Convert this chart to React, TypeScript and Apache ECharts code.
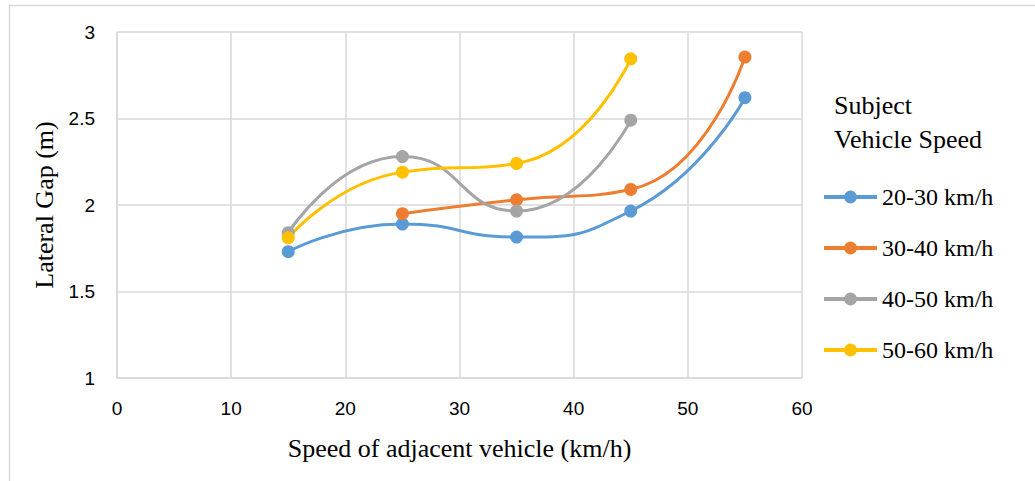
import React, { useEffect, useRef } from "react";
import * as echarts from "echarts";

// Speed of the adjacent vehicle (km/h)
const adjacentSpeeds = [15, 25, 35, 45, 55];

// Lateral gap (m) for each subject vehicle speed band; null = no observation
const gap2030 = [1.73, 1.89, 1.815, 1.965, 2.62];
const gap3040 = [null, 1.95, 2.03, 2.09, 2.855];
const gap4050 = [1.84, 2.28, 1.965, 2.49, null];
const gap5060 = [1.81, 2.19, 2.24, 2.845, null];

const seriesNames = ["20-30 km/h", "30-40 km/h", "40-50 km/h", "50-60 km/h"];
const seriesColors = ["#5B9BD5", "#ED7D31", "#A5A5A5", "#FFC000"];

const xTicks = { min: 0, max: 60, interval: 10 };
const yTicks = { min: 1, max: 3, interval: 0.5 };

const SERIF = "'Liberation Serif', 'Times New Roman', serif";
const SANS = "'Liberation Sans', Arial, sans-serif";

function toPairs(values: (number | null)[]) {
  return adjacentSpeeds
    .map((x, i) => [x, values[i]])
    .filter((p) => p[1] !== null);
}

export default function App() {
  const ref = useRef<HTMLDivElement>(null);

  useEffect(() => {
    if (!ref.current) return;
    const chart = echarts.init(ref.current, undefined, { renderer: "svg" });
    const allValues = [gap2030, gap3040, gap4050, gap5060];

    chart.setOption({
      animation: false,
      backgroundColor: "#ffffff",
      grid: { left: 117, right: 233, top: 32, bottom: 103 },
      xAxis: {
        type: "value",
        min: xTicks.min,
        max: xTicks.max,
        interval: xTicks.interval,
        name: "Speed of adjacent vehicle (km/h)",
        nameLocation: "middle",
        nameGap: 57,
        nameTextStyle: { fontFamily: SERIF, fontSize: 26, color: "#000" },
        axisLine: { show: true, lineStyle: { color: "#d9d9d9", width: 1.5 } },
        axisTick: { show: false },
        axisLabel: { fontFamily: SANS, fontSize: 19, color: "#000", margin: 21 },
        splitLine: { show: true, lineStyle: { color: "#d9d9d9", width: 1.5 } },
      },
      yAxis: {
        type: "value",
        min: yTicks.min,
        max: yTicks.max,
        interval: yTicks.interval,
        name: "Lateral Gap (m)",
        nameLocation: "middle",
        nameGap: 60,
        nameTextStyle: { fontFamily: SERIF, fontSize: 26, color: "#000" },
        axisLine: { show: true, lineStyle: { color: "#d9d9d9", width: 1.5 } },
        axisTick: { show: false },
        axisLabel: { fontFamily: SANS, fontSize: 19, color: "#000", margin: 22 },
        splitLine: { show: true, lineStyle: { color: "#d9d9d9", width: 1.5 } },
      },
      legend: {
        orient: "vertical",
        left: 822,
        top: 185,
        padding: 0,
        itemWidth: 53,
        itemHeight: 16,
        itemGap: 27,
        lineStyle: { width: 4 },
        textStyle: { fontFamily: SERIF, fontSize: 24, color: "#000" },
        data: seriesNames,
      },
      graphic: [
        {
          type: "rect",
          silent: true,
          shape: { x: 9.5, y: 5.5, width: 1040, height: 500 },
          style: { fill: "none", stroke: "#d9d9d9", lineWidth: 1.5 },
        },
        {
          type: "text",
          left: 834,
          top: 88,
          silent: true,
          style: {
            text: "Subject\nVehicle Speed",
            fontFamily: SERIF,
            fontSize: 26,
            lineHeight: 34,
            fill: "#000",
          },
        },
      ],
      series: seriesNames.map((name, i) => ({
        name,
        type: "line",
        data: toPairs(allValues[i]),
        smooth: 0.55,
        symbol: "circle",
        symbolSize: 13,
        lineStyle: { width: 3, color: seriesColors[i] },
        itemStyle: { color: seriesColors[i] },
      })),
    });

    return () => chart.dispose();
  }, []);

  return (
    <div
      ref={ref}
      style={{ position: "absolute", left: 0, top: 0, width: 1035, height: 481 }}
    />
  );
}
